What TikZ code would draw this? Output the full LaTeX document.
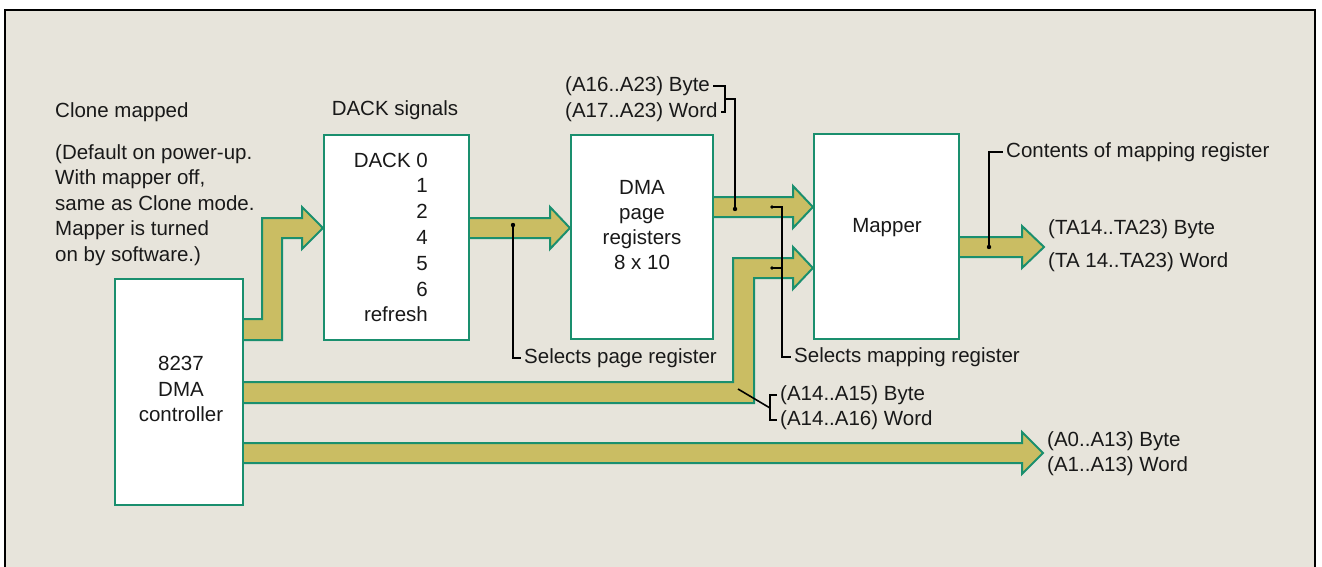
\documentclass[tikz,border=0pt]{standalone}
\usepackage{fontspec}
\setmainfont{Liberation Sans}
\definecolor{bg}{HTML}{E7E4DB}
\definecolor{tealline}{HTML}{1A8F6E}
\definecolor{khaki}{HTML}{CABD63}
\begin{document}
\begin{tikzpicture}[x=1pt,y=-1pt,
  box/.style={draw=tealline, line width=2.2pt, fill=white, inner sep=0pt},
  bus/.style={fill=khaki, draw=tealline, line width=2pt, line join=miter},
  lead/.style={draw=black, line width=1.6pt},
  txt/.style={font=\fontsize{20.5}{25.5}\selectfont, inner sep=0pt, text=black!90},
  lbl/.style={txt, inner xsep=3pt, anchor=west},
  dot/.style={fill=black}]
\useasboundingbox (0,0) rectangle (1322,567);
\clip (0,0) rectangle (1322,567);
\fill[white] (0,0) rectangle (1322,567);
\draw[black, line width=1.8pt, fill=bg] (5,10) rectangle (1315,600);

% boxes
\node[box, minimum width=128pt, minimum height=226pt] (ctrl) at (179,392) {};
\node[box, minimum width=145pt, minimum height=205pt] (dack) at (396.5,237.5) {};
\node[box, minimum width=142pt, minimum height=204pt] (page) at (642,237) {};
\node[box, minimum width=145pt, minimum height=205pt] (mapper) at (886.5,236.5) {};

% box texts
\node[txt, align=center] (ctrltxt) at (181,389) {8237\\DMA\\controller};
\node[txt, anchor=east, align=right, font=\fontsize{20.5}{25.8}\selectfont] (dacktxt) at (428,237.5) {DACK 0\\1\\2\\4\\5\\6\\refresh};
\node[txt, align=center, font=\fontsize{20.5}{25}\selectfont] (pagetxt) at (642,225) {DMA\\page\\registers\\8 x 10};
\node[txt] (mappertxt) at (887,228) {Mapper};

% texts
\node[txt, anchor=west] (clone) at (55,112) {Clone mapped};
\node[txt, anchor=west, align=left] (default) at (55,205) {(Default on power-up.\\With mapper off,\\same as Clone mode.\\Mapper is turned\\on by software.)};
\node[txt] (dacksig) at (395,110) {DACK signals};
\node[lbl] (a16) at (562,86) {(A16..A23) Byte};
\node[lbl] (a17) at (562,112) {(A17..A23) Word};
\node[lbl] (contents) at (1003,152) {Contents of mapping register};
\node[lbl] (ta1) at (1045,229) {(TA14..TA23) Byte};
\node[lbl] (ta2) at (1045,262) {(TA 14..TA23) Word};
\node[lbl] (selpage) at (521,358) {Selects page register};
\node[lbl] (selmap) at (791,357) {Selects mapping register};
\node[lbl] (a1415) at (777,395) {(A14..A15) Byte};
\node[lbl] (a1416) at (777,420) {(A14..A16) Word};
\node[lbl] (a0) at (1044,441) {(A0..A13) Byte};
\node[lbl] (a1) at (1044,466) {(A1..A13) Word};

% buses
\filldraw[bus] (ctrl.east |- 0,319) -- (262,319) -- (262,218) -- (302,218) -- (302,207)
  -- (dack.west |- 0,228) -- (302,249) -- (302,238) -- (282,238) -- (282,340) -- (ctrl.east |- 0,340);
\filldraw[bus] (dack.east |- 0,218) -- (550,218) -- (550,207) -- (page.west |- 0,228)
  -- (550,249) -- (550,238) -- (dack.east |- 0,238);
\filldraw[bus] (page.east |- 0,197) -- (793,197) -- (793,186) -- (mapper.west |- 0,207)
  -- (793,228) -- (793,217) -- (page.east |- 0,217);
\filldraw[bus] (ctrl.east |- 0,382) -- (733,382) -- (733,258) -- (793,258) -- (793,247)
  -- (mapper.west |- 0,268) -- (793,289) -- (793,278) -- (754,278) -- (754,403) -- (ctrl.east |- 0,403);
\coordinate (outA) at (1044,247);
\filldraw[bus] (mapper.east |- 0,237) -- (1022,237) -- (1022,226) -- (outA)
  -- (1022,268) -- (1022,257) -- (mapper.east |- 0,257);
\coordinate (outB) at (1043,453);
\filldraw[bus] (ctrl.east |- 0,443) -- (1022,443) -- (1022,432) -- (outB)
  -- (1022,474) -- (1022,463) -- (ctrl.east |- 0,463);

% leaders
\coordinate (d1) at (513,225);
\draw[lead] (d1) |- (selpage.west);
\fill[dot] (d1) circle (2.2);

\coordinate (br1) at (725,99);
\coordinate (d2) at (735,209);
\draw[lead] (a16.east) -| (br1) |- (a17.east);
\draw[lead] (br1) -| (d2);
\fill[dot] (d2) circle (2.2);

\coordinate (d3a) at (772,207);
\coordinate (d3b) at (772,268);
\coordinate (v3) at (782,268);
\draw[lead] (d3a) -| (v3) |- (selmap.west);
\draw[lead] (d3b) -- (v3);
\fill[dot] (d3a) circle (1.8);
\fill[dot] (d3b) circle (1.8);

\coordinate (d4) at (738,389);
\coordinate (br2) at (770,408);
\draw[lead] (d4) -- (br2);
\draw[lead] (a1415.west) -| (br2) |- (a1416.west);

\coordinate (d5) at (989,247);
\draw[lead] (d5) |- (contents.west);
\fill[dot] (d5) circle (2.2);
\end{tikzpicture}
\end{document}
